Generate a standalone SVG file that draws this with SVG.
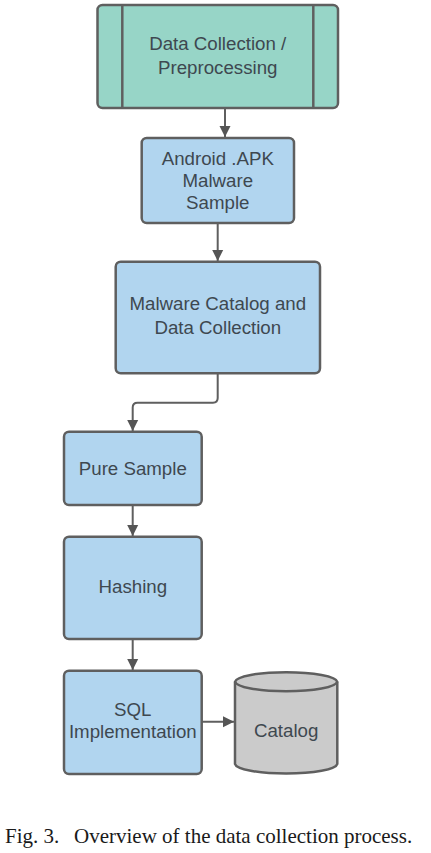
<svg xmlns="http://www.w3.org/2000/svg" width="431" height="853" viewBox="0 0 431 853">
<defs>
<marker id="arr" markerUnits="userSpaceOnUse" markerWidth="12" markerHeight="13" viewBox="0 0 12 13" refX="11" refY="6.5" orient="auto">
<path d="M0,1 L11,6.5 L0,12 Z" fill="#555555"/>
</marker>
</defs>
<style>
.box{stroke:#5f5f5f;stroke-width:2.5}
.green{fill:#97d5c7}
.blue{fill:#b1d5ef}
.gray{fill:#cbcbcb}
.lbl{font-family:"Liberation Sans",Arial,sans-serif;font-size:18.7px;fill:#3e4850;text-anchor:middle}
.conn{fill:none;stroke:#5f5f5f;stroke-width:2}
.cap{font-family:"Liberation Serif","Times New Roman",serif;font-size:21px;fill:#1a1a1a}
</style>
<rect width="431" height="853" fill="#ffffff"/>
<g id="connectors">
<path class="conn" d="M225,108 V137" marker-end="url(#arr)"/>
<path class="conn" d="M217.7,223 V261" marker-end="url(#arr)"/>
<path class="conn" d="M217.7,373.5 V398 Q217.7,402.7 213,402.7 H137.5 Q132.7,402.7 132.7,407.5 V431" marker-end="url(#arr)"/>
<path class="conn" d="M132.7,505 V536" marker-end="url(#arr)"/>
<path class="conn" d="M132.7,639 V670" marker-end="url(#arr)"/>
<path class="conn" d="M201.7,721.7 H234" marker-end="url(#arr)"/>
</g>
<g id="node-preprocessing">
<rect class="box green" x="97.5" y="5" width="240.5" height="103" rx="5"/>
<line class="box" x1="122.3" y1="5" x2="122.3" y2="108"/>
<line class="box" x1="313.3" y1="5" x2="313.3" y2="108"/>
<text class="lbl" x="217.7" y="49.5">Data Collection /</text>
<text class="lbl" x="217.7" y="73.5">Preprocessing</text>
</g>
<g id="node-apk">
<rect class="box blue" x="141.7" y="138" width="152.3" height="85" rx="5"/>
<text class="lbl" x="217.8" y="164.5">Android .APK</text>
<text class="lbl" x="217.8" y="186.5">Malware</text>
<text class="lbl" x="217.8" y="208.5">Sample</text>
</g>
<g id="node-catalog-collection">
<rect class="box blue" x="115.7" y="261.7" width="204.3" height="111.6" rx="5"/>
<text class="lbl" x="217.8" y="309.5">Malware Catalog and</text>
<text class="lbl" x="217.8" y="333.5">Data Collection</text>
</g>
<g id="node-pure">
<rect class="box blue" x="64" y="431.7" width="137.7" height="73.3" rx="5"/>
<text class="lbl" x="132.8" y="474.5">Pure Sample</text>
</g>
<g id="node-hashing">
<rect class="box blue" x="64" y="536.7" width="137.7" height="102.3" rx="5"/>
<text class="lbl" x="132.8" y="593">Hashing</text>
</g>
<g id="node-sql">
<rect class="box blue" x="64" y="670.7" width="137.7" height="103.3" rx="5"/>
<text class="lbl" x="132.8" y="715.5">SQL</text>
<text class="lbl" x="132.8" y="737.5">Implementation</text>
</g>
<g id="node-catalog">
<path class="box gray" d="M235,681.7 V764 A51.2,10 0 0 0 337.3,764 V681.7 A51.2,10 0 0 0 235,681.7 Z"/>
<path class="box" fill="none" d="M235,681.7 A51.2,10 0 0 0 337.3,681.7"/>
<text class="lbl" x="286.2" y="736.5">Catalog</text>
</g>
<text class="cap" x="5" y="843">Fig. 3.</text>
<text class="cap" x="74" y="843">Overview of the data collection process.</text>
</svg>
